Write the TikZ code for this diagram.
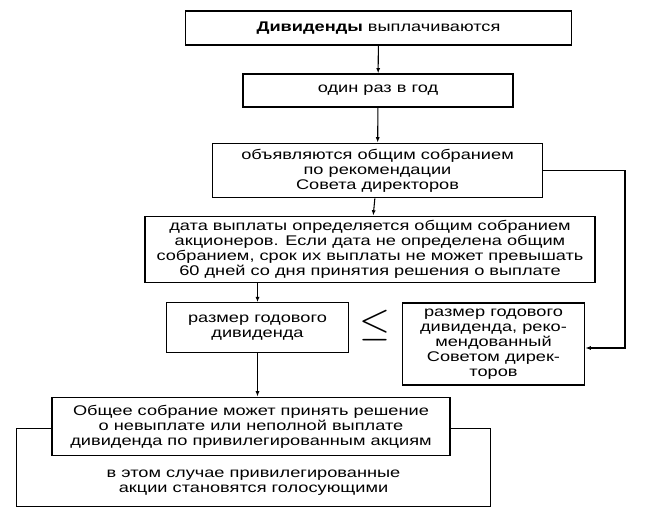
\documentclass[tikz,border=0pt]{standalone}
\usepackage{fontspec}
\setmainfont[FakeStretch=1.3]{Liberation Sans}
\usetikzlibrary{arrows.meta}

\begin{document}
\begin{tikzpicture}[
    x=0.75pt, y=-0.75pt,
    font=\fontsize{10.5}{11.3}\selectfont,
    box/.style={rectangle, draw=black, line width=0.9pt, align=center, inner sep=0pt},
    note/.style={align=center, inner sep=0pt},
    arrow/.style={-{Latex[length=4pt, width=3pt]}, line width=0.8pt, draw=black}
  ]
    \useasboundingbox (0,0) rectangle (646,515);

    \node[box, minimum width=290pt, minimum height=25.5pt] (paid) at (378.5, 28) {\textbf{Дивиденды} выплачиваются};
    \node[box, minimum width=202.5pt, minimum height=24.75pt] (once) at (378, 90.5) {один раз в год};
    \node[box, minimum width=248pt, minimum height=41pt] (announce) at (377.5, 170.5) {объявляются общим собранием\\по рекомендации\\Совета директоров};
    \node[box, minimum width=337.5pt, minimum height=50pt] (date) at (370, 249.5) {дата выплаты определяется общим собранием\\акционеров. Если дата не определена общим\\собранием, срок их выплаты не может превышать\\60 дней со дня принятия решения о выплате};

    \node[box, minimum width=136pt, minimum height=37pt] (size) at (257.5, 327.5) {размер годового\\дивиденда};
    \node[scale=1.2, font=\Huge, inner sep=0pt] (leq) at (375, 326) {$\leq$};
    \node[box, minimum width=137pt, minimum height=61.5pt] (advised) at (493.5, 344) {размер годового\\дивиденда, реко-\\мендованный\\Советом дирек-\\торов};

    % back box first, front box over it
    \node[box, minimum width=355pt, minimum height=59pt] (voting) at (253.5, 467.5) {};
    \node[note] (votetext) at (253.5, 483) {в этом случае привилегированные\\акции становятся голосующими};
    \node[box, fill=white, minimum width=298.5pt, minimum height=44pt] (refuse) at (251, 426.5) {Общее собрание может принять решение\\о невыплате или неполной выплате\\дивиденда по привилегированным акциям};

    \coordinate (rside) at (625, 170.5);

    % Flow transitions
    \draw[arrow] (paid) -- (once);
    \draw[arrow] (once) -- (announce);
    \draw[arrow] (announce) -- (date);
    \draw[arrow] (date.south -| size.north) -- (size.north);
    \draw[arrow] (announce.east) -- (rside) |- ([yshift=-3pt]advised.east);
    \draw[arrow] (size.south) -- (size.south |- refuse.north);

  \end{tikzpicture}
\end{document}
